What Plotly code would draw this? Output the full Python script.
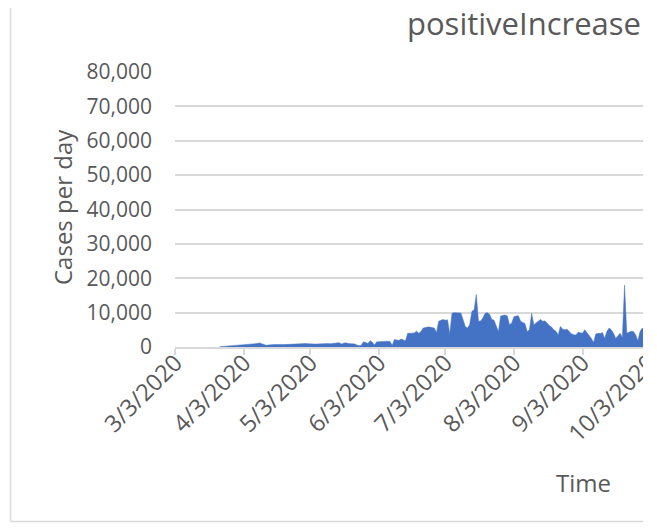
import plotly.graph_objects as go
import pandas as pd

# ---------------- data ----------------
start_date = "2020-03-23"
cases = [
    # 3/23 - 4/1
    100, 150, 200, 200, 250, 300, 300, 350, 400, 450,
    # 4/2 - 4/11
    500, 600, 650, 600, 700, 800, 900, 1000, 1200, 900,
    600, 500, 600, 700, 700, 750, 700, 800, 750, 700,
    750, 800, 800, 850, 750, 800, 850, 900, 1000, 1000,
    950, 850, 900, 850, 900, 950, 900, 1000, 950, 1000,
    950, 1000, 1100, 1200, 1250, 900, 1100, 1250, 1000, 950,
    950, 900, 600, 400, 500, 1500, 1300, 1000, 1800, 1400,
    600, 1500, 1500, 1600, 1500, 1600, 1700, 1600, 500, 2200,
    2000, 1900, 2300, 2100, 1800, 4000, 3900, 4000, 4100, 4600,
    4000, 4500, 5500, 5700, 5800, 5800, 5700, 5500, 4200, 7500,
    7800, 8000, 7800, 7900, 3800, 9800, 10000, 10000, 10100, 9900,
    8000, 6000, 5500, 6500, 10400, 10800, 15300, 7500, 7600, 8500,
    9800, 10000, 9500, 8000, 7800, 6000, 4500, 9000, 9200, 9300,
    9000, 6500, 7000, 8800, 9000, 9100, 7500, 7200, 6800, 4500,
    5000, 9800, 6500, 7000, 7500, 8000, 7500, 7600, 7000, 6200,
    5800, 5000, 4600, 3500, 6000, 5200, 5000, 5200, 4500, 3800,
    3600, 3500, 4300, 4100, 4000, 5000, 4200, 3500, 2500, 1300,
    3800, 4000, 3900, 4200, 2500, 4500, 5500, 5000, 4000, 2500,
    3300, 4000, 2800, 18000, 4000, 4400, 4600, 4500, 3600, 1800,
    4500, 5500, 5000,
]
dates = pd.date_range(start_date, periods=len(cases), freq="D")

tick_dates = ["2020-03-03", "2020-04-03", "2020-05-03", "2020-06-03",
              "2020-07-03", "2020-08-03", "2020-09-03", "2020-10-03"]
tick_labels = ["3/3/2020", "4/3/2020", "5/3/2020", "6/3/2020",
               "7/3/2020", "8/3/2020", "9/3/2020", "10/3/2020"]
y_ticks = [0, 10000, 20000, 30000, 40000, 50000, 60000, 70000, 80000]

title_text = "positiveIncrease"
x_title = "Time"
y_title = "Cases per day"

# ---------------- layout helpers ----------------
OFF = 8                      # page body margin
W, H = 657 - 2 * OFF, 531 - 2 * OFF
L, R, T = 175 - OFF, 0, 72 - OFF
B = H - (347 - OFF)
PW, PH = W - L - R, H - T - B


def px(x):                   # screen px -> paper x
    return (x - OFF - L) / PW


def py(y):                   # screen px -> paper y
    return (T + PH - (y - OFF)) / PH


FONT = "Open Sans"
GREY = "#595959"
GRID = "#D9D9D9"

fig = go.Figure()
fig.add_trace(go.Scatter(
    x=dates, y=cases, mode="lines", fill="tozeroy",
    line=dict(color="#4472C4", width=0.5), fillcolor="#4472C4",
    showlegend=False, hoverinfo="x+y",
))

fig.update_layout(
    width=W, height=H,
    margin=dict(l=L, r=R, t=T, b=B, pad=0, autoexpand=False),
    paper_bgcolor="white", plot_bgcolor="white",
    font=dict(family=FONT, color=GREY, size=21),
    showlegend=False,
    xaxis=dict(
        type="date", automargin=False,
        range=["2020-03-02 20:00", "2020-10-03 01:00"],
        tickvals=tick_dates, ticktext=tick_labels,
        tickangle=-45,
        tickfont=dict(family=FONT, size=23.5, color=GREY),
        ticklabeloverflow="allow",
        ticklabelstandoff=-15,
        showgrid=False, zeroline=False,
        showline=True, linecolor=GRID, linewidth=1.5,
        ticks="outside", ticklen=6, tickcolor=GRID, tickwidth=1.5,
    ),
    yaxis=dict(
        automargin=False,
        range=[0, 80000],
        tickvals=y_ticks, tickformat=",d",
        tickfont=dict(family=FONT, size=21, color=GREY),
        showgrid=True, gridcolor=GRID, gridwidth=1.5,
        zeroline=False, showline=False, ticks="",
        ticklabelstandoff=22,
    ),
)

annotations = [
    dict(text=title_text, x=px(405), y=py(23), xref="paper", yref="paper",
         xanchor="left", yanchor="middle", showarrow=False,
         font=dict(family=FONT, size=31, color=GREY)),
    dict(text=x_title, x=px(583), y=py(482), xref="paper", yref="paper",
         xanchor="center", yanchor="middle", showarrow=False,
         font=dict(family=FONT, size=24, color=GREY)),
    dict(text=y_title, x=px(62), y=py(207), xref="paper", yref="paper",
         xanchor="center", yanchor="middle", showarrow=False, textangle=-90,
         font=dict(family=FONT, size=24, color=GREY)),
]
fig.update_layout(annotations=annotations)

shapes = [
    # white mask for the clipped right edge
    dict(type="rect", xref="paper", yref="paper",
         x0=px(643), x1=px(700), y0=py(560), y1=py(-20),
         fillcolor="white", line=dict(width=0), layer="above"),
    # chart border (left and bottom)
    dict(type="line", xref="paper", yref="paper",
         x0=px(10.5), x1=px(10.5), y0=py(8), y1=py(521.5),
         line=dict(color="#D9D9D9", width=1.5), layer="above"),
    dict(type="line", xref="paper", yref="paper",
         x0=px(10.5), x1=px(643), y0=py(521.5), y1=py(521.5),
         line=dict(color="#D9D9D9", width=1.5), layer="above"),
]
fig.update_layout(shapes=shapes)

fig.write_html("out.html")
